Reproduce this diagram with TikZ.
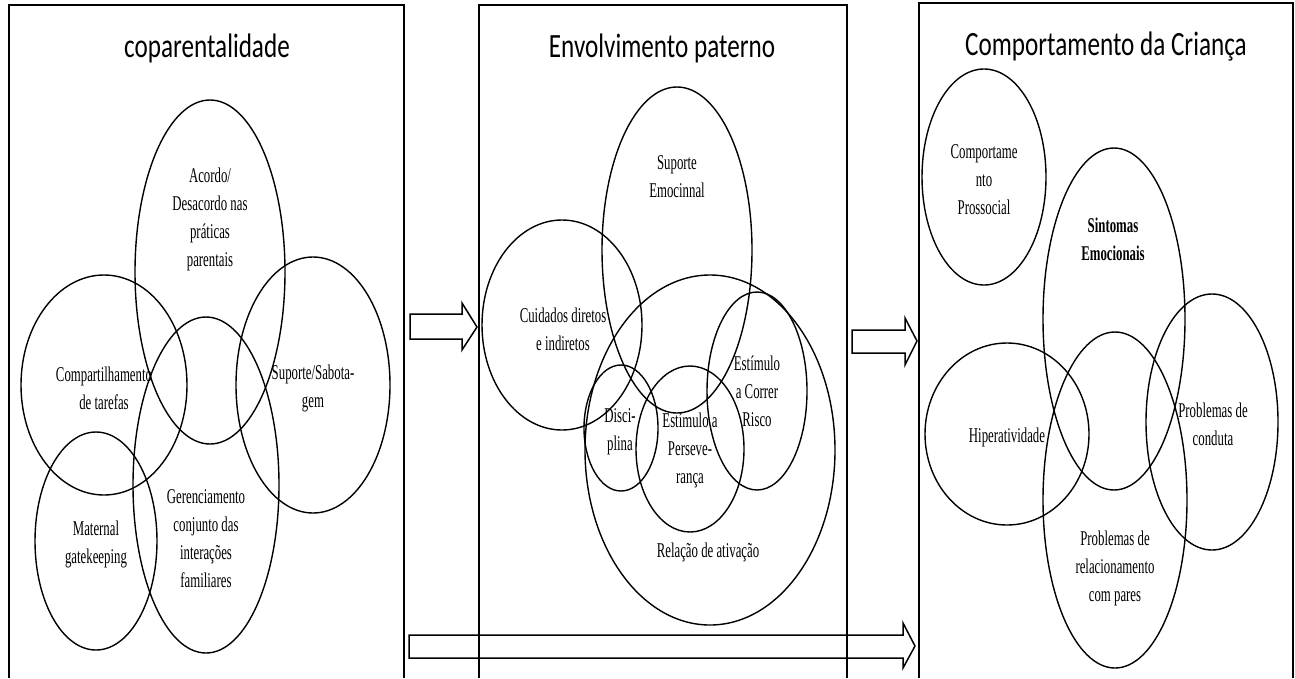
\documentclass[tikz,border=0pt]{standalone}
\usepackage{fontspec}
\usetikzlibrary{shapes.geometric}
\newfontfamily\titlefont[FakeStretch=0.74]{Carlito}
\newfontfamily\bodyfont[FakeStretch=0.61]{Liberation Serif}
\begin{document}
\begin{tikzpicture}[x=1pt,y=-1pt,
  ell/.style={draw, ellipse, line width=1.4pt, inner sep=0pt},
  lbl/.style={align=center, inner sep=0pt, font=\bodyfont\fontsize{21}{28}\selectfont},
  ttl/.style={anchor=base, inner sep=0pt, font=\titlefont\fontsize{34}{38}\selectfont},
  panel/.style={line width=1.4pt},
  barrow/.style={line width=1.5pt, line join=miter}]
\useasboundingbox (0,0) rectangle (1295,678);
\fill[white] (0,0) rectangle (1295,678);
% panels
\draw[panel] (9,678) -- (9,5) -- (404,5) -- (404,678);
\draw[panel] (479,678) -- (479,5) -- (847,5) -- (847,678);
\draw[panel] (919,678) -- (919,3) -- (1293,3) -- (1293,678);
% titles
\node[ttl] (t1) at (207,57) {coparentalidade};
\node[ttl] (t2) at (662,57) {Envolvimento paterno};
\node[ttl] (t3) at (1106,55) {Comportamento da Criança};
% panel 1 ellipses
\node[ell, minimum width=150, minimum height=344] (acordo) at (210,272) {};
\node[ell, minimum width=166, minimum height=220] (compart) at (104,385) {};
\node[ell, minimum width=154, minimum height=256] (suporte) at (313,385) {};
\node[ell, minimum width=146, minimum height=336] (gerenc) at (206,485) {};
\node[ell, minimum width=122, minimum height=218] (maternal) at (96,541) {};
\node[lbl] (lacordo) at (210,219) {Acordo/\\Desacordo nas\\práticas\\parentais};
\node[lbl] (lcompart) at (104,388) {Compartilhamento\\de tarefas};
\node[lbl] (lsuporte) at (313,388) {Suporte/Sabota-\\gem};
\node[lbl] (lmaternal) at (96,544) {Maternal\\gatekeeping};
\node[lbl] (lgerenc) at (206,539) {Gerenciamento\\conjunto das\\interações\\familiares};
% panel 2 ellipses
\node[ell, minimum width=150, minimum height=326] (suporteem) at (677,250) {};
\node[ell, minimum width=160, minimum height=210] (cuidados) at (562,325) {};
\node[ell, minimum width=250, minimum height=350] (relacao) at (710,450) {};
\node[ell, minimum width=100, minimum height=198] (risco) at (757,391) {};
\node[ell, minimum width=74, minimum height=126] (disciplina) at (621,428) {};
\node[ell, minimum width=108, minimum height=166] (persev) at (690,449) {};
\node[lbl] (lsuporteem) at (677,177) {Suporte\\Emocinnal};
\node[lbl] (lcuidados) at (563,329) {Cuidados diretos\\e indiretos};
\node[lbl] (ldisciplina) at (620,432) {Disci-\\plina};
\node[lbl] (lpersev) at (690,450) {Estímulo a\\Perseve-\\rança};
\node[lbl] (lrisco) at (757,391) {Estímulo\\a Correr\\Risco};
\node[lbl] (lrelacao) at (708,552) {Relação de ativação};
% panel 3 ellipses
\node[ell, minimum width=124, minimum height=216] (prossocial) at (984,177) {};
\node[ell, minimum width=142, minimum height=342] (sintomas) at (1114,319) {};
\node[ell, minimum width=144, minimum height=336] (relac) at (1115,500) {};
\node[ell, minimum width=132, minimum height=256] (conduta) at (1212,422) {};
\node[ell, minimum width=164, minimum height=182] (hiper) at (1007,434) {};
\node[lbl] (lprossocial) at (984,180) {Comportame\\nto\\Prossocial};
\node[lbl, font=\bodyfont\bfseries\fontsize{21}{28}\selectfont] (lsintomas) at (1113,239) {Sintomas\\Emocionais};
\node[lbl] (lhiper) at (1007,437) {Hiperatividade};
\node[lbl] (lconduta) at (1213,424) {Problemas de\\conduta};
\node[lbl] (lrelac) at (1115,568) {Problemas de\\relacionamento\\com pares};
% block arrows
\draw[barrow] (410,314) -- (462,314) -- (462,303) -- (477,327) -- (462,350) -- (462,339) -- (410,339) -- cycle;
\draw[barrow] (852,330) -- (905,330) -- (905,318) -- (917,341) -- (905,365) -- (905,353) -- (852,353) -- cycle;
\draw[barrow] (409,635) -- (903,635) -- (903,623) -- (915,646) -- (903,668) -- (903,658) -- (409,658) -- cycle;
\end{tikzpicture}
\end{document}
